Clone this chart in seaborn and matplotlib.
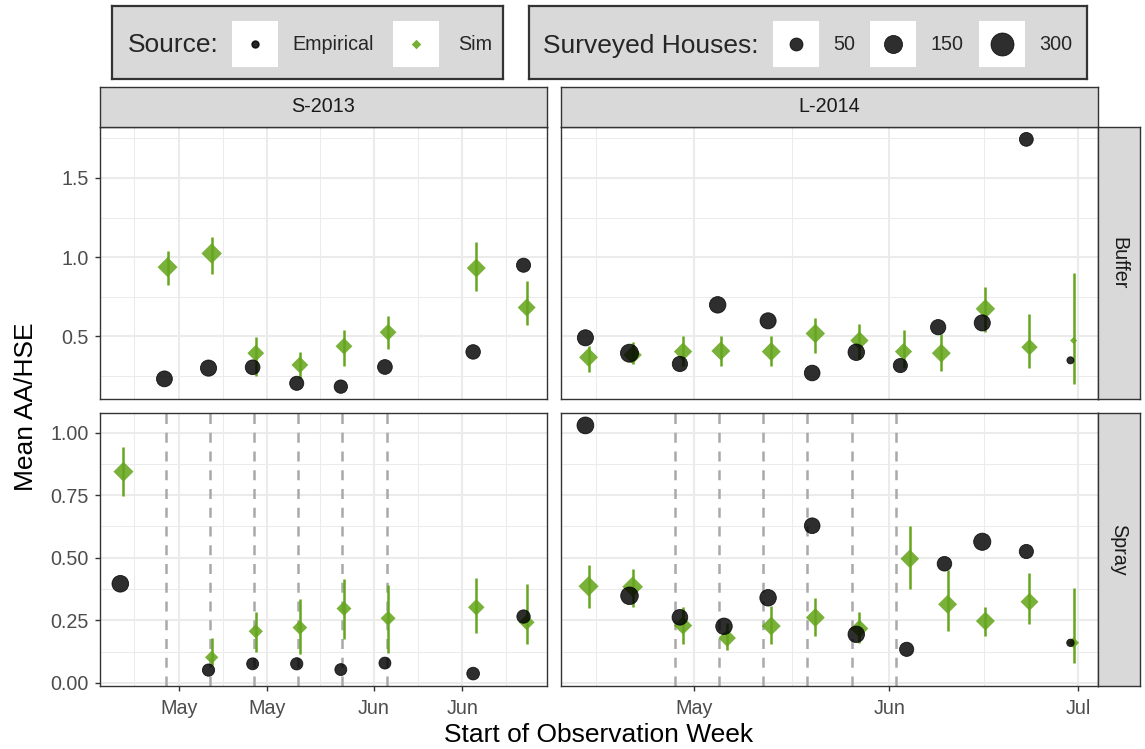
import numpy as np
import pandas as pd
import matplotlib
matplotlib.use("Agg")
import matplotlib.pyplot as plt
import matplotlib.dates as mdates
from matplotlib.patches import Rectangle
from matplotlib.ticker import FixedLocator, FixedFormatter
import seaborn as sns

# ---------------- data ----------------
# S-2013, Buffer
buf13_dates = ["2013-04-29", "2013-05-06", "2013-05-13", "2013-05-20", "2013-05-27",
               "2013-06-03", "2013-06-17", "2013-06-25"]
buf13_emp = [0.232, 0.300, 0.305, 0.204, 0.183, 0.307, 0.402, 0.949]
buf13_emp_n = [101, 107, 79, 68, 56, 79, 75, 68]
buf13_sim = [0.937, 1.023, 0.394, 0.320, 0.438, 0.526, 0.931, 0.682]
buf13_lo = [0.827, 0.895, 0.250, 0.240, 0.316, 0.419, 0.787, 0.571]
buf13_hi = [1.036, 1.130, 0.493, 0.404, 0.539, 0.629, 1.097, 0.851]
buf13_sim_n = [204, 219, 121, 121, 121, 121, 175, 149]

# S-2013, Spray
spr13_dates = ["2013-04-22", "2013-05-06", "2013-05-13", "2013-05-20", "2013-05-27",
               "2013-06-03", "2013-06-17", "2013-06-25"]
spr13_emp = [0.396, 0.051, 0.076, 0.076, 0.053, 0.079, 0.037, 0.265]
spr13_emp_n = [118, 40, 36, 40, 36, 36, 46, 56]
spr13_sim = [0.844, 0.102, 0.206, 0.221, 0.297, 0.258, 0.302, 0.242]
spr13_lo = [0.745, 0.070, 0.123, 0.116, 0.174, 0.120, 0.200, 0.154]
spr13_hi = [0.943, 0.179, 0.283, 0.336, 0.417, 0.393, 0.420, 0.394]
spr13_sim_n = [204, 55, 71, 78, 83, 83, 114, 99]
spray13_events = ["2013-04-29", "2013-05-06", "2013-05-13", "2013-05-20",
                  "2013-05-27", "2013-06-03"]

# L-2014, Buffer
buf14_dates = ["2014-04-14", "2014-04-21", "2014-04-29", "2014-05-05", "2014-05-13",
               "2014-05-20", "2014-05-27", "2014-06-03", "2014-06-09", "2014-06-16",
               "2014-06-23", "2014-06-30"]
buf14_emp = [0.491, 0.394, 0.326, 0.699, 0.598, 0.269, 0.400, 0.316, 0.558, 0.585, 1.743, 0.349]
buf14_emp_n = [106, 150, 89, 114, 106, 97, 114, 69, 89, 106, 63, 1]
buf14_sim = [0.368, 0.383, 0.404, 0.408, 0.404, 0.518, 0.474, 0.404, 0.394, 0.674, 0.432, 0.474]
buf14_lo = [0.274, 0.326, 0.316, 0.316, 0.316, 0.396, 0.358, 0.299, 0.284, 0.526, 0.299, 0.200]
buf14_hi = [0.442, 0.463, 0.505, 0.501, 0.505, 0.617, 0.579, 0.543, 0.516, 0.811, 0.642, 0.899]
buf14_sim_n = [175, 157, 157, 175, 175, 189, 157, 130, 175, 189, 112, 1]

# L-2014, Spray
spr14_dates = ["2014-04-14", "2014-04-21", "2014-04-29", "2014-05-06", "2014-05-13",
               "2014-05-20", "2014-05-27", "2014-06-04", "2014-06-10", "2014-06-16",
               "2014-06-23", "2014-06-30"]
spr14_emp = [1.029, 0.348, 0.262, 0.226, 0.340, 0.628, 0.194, 0.134, 0.476, 0.564, 0.525, 0.160]
spr14_emp_n = [121, 139, 97, 114, 114, 97, 114, 69, 76, 130, 69, 2]
spr14_sim = [0.386, 0.384, 0.229, 0.179, 0.227, 0.261, 0.217, 0.496, 0.314, 0.247, 0.324, 0.160]
spr14_lo = [0.299, 0.303, 0.156, 0.130, 0.156, 0.186, 0.160, 0.377, 0.207, 0.187, 0.237, 0.080]
spr14_hi = [0.471, 0.457, 0.303, 0.240, 0.306, 0.341, 0.285, 0.628, 0.450, 0.303, 0.441, 0.380]
spr14_sim_n = [210, 222, 157, 139, 175, 175, 147, 167, 175, 175, 147, 25]
spray14_events = ["2014-04-28", "2014-05-05", "2014-05-12", "2014-05-19",
                  "2014-05-26", "2014-06-02"]

# axis breaks
col_names = ["S-2013", "L-2014"]
row_names = ["Buffer", "Spray"]
x_major = {"S-2013": ["2013-05-01", "2013-05-15", "2013-06-01", "2013-06-15"],
           "L-2014": ["2014-05-01", "2014-06-01", "2014-07-01"]}
y_major = {"Buffer": [0.5, 1.0, 1.5], "Spray": [0.0, 0.25, 0.5, 0.75, 1.0]}
y_labels = {"Buffer": ["0.5", "1.0", "1.5"],
            "Spray": ["0.00", "0.25", "0.50", "0.75", "1.00"]}
legend_sizes = [50, 150, 300]

# ---------------- style ----------------
W, H = 1145, 749
sns.set_theme(style="white")
plt.rcParams["font.family"] = ["Liberation Sans", "DejaVu Sans"]

GREEN = "#66A61E"
DARK = "#333333"
GRID = "#EBEBEB"
STRIP = "#D9D9D9"
PT_PER_PX = 72 / 100
TITLE_FS = 19
SMALL_FS = 14.2

fig = plt.figure(figsize=(W / 100, H / 100), dpi=100)


def px_axes(x0, y0, x1, y1):
    return fig.add_axes([x0 / W, 1 - y1 / H, (x1 - x0) / W, (y1 - y0) / H])


def diam_px(n):
    return 6.1 + 0.974 * np.sqrt(n)


def circle_area(n):
    return (diam_px(n) * PT_PER_PX) ** 2


def diamond_area(n):
    return (diam_px(n) * PT_PER_PX / np.sqrt(2)) ** 2


panels = {
    ("S-2013", "Buffer"): (buf13_dates, buf13_emp, buf13_emp_n, buf13_sim, buf13_lo, buf13_hi, buf13_sim_n, []),
    ("S-2013", "Spray"): (spr13_dates, spr13_emp, spr13_emp_n, spr13_sim, spr13_lo, spr13_hi, spr13_sim_n, spray13_events),
    ("L-2014", "Buffer"): (buf14_dates, buf14_emp, buf14_emp_n, buf14_sim, buf14_lo, buf14_hi, buf14_sim_n, []),
    ("L-2014", "Spray"): (spr14_dates, spr14_emp, spr14_emp_n, spr14_sim, spr14_lo, spr14_hi, spr14_sim_n, spray14_events),
}

col_px = {"S-2013": (100, 547), "L-2014": (561, 1098)}
row_px = {"Buffer": (127, 399), "Spray": (413, 686)}
dodge = pd.Timedelta(hours=6)


def expanded(lo, hi, frac=0.05):
    pad = (hi - lo) * frac
    return lo - pad, hi + pad


# shared limits per column (x) and per row (y)
xlims = {}
for c in col_names:
    xs = []
    for r in row_names:
        d = pd.to_datetime(panels[(c, r)][0])
        xs += list(d - dodge) + list(d + dodge)
    xlims[c] = expanded(min(xs), max(xs))
ylims = {}
for r in row_names:
    vals = []
    for c in col_names:
        p = panels[(c, r)]
        vals += list(p[1]) + list(p[4]) + list(p[5])
    ylims[r] = expanded(min(vals), max(vals))

for c in col_names:
    for r in row_names:
        dates, emp, emp_n, sim, lo, hi, sim_n, events = panels[(c, r)]
        d = pd.to_datetime(dates)
        x0, x1 = col_px[c]
        y0, y1 = row_px[r]
        ax = px_axes(x0, y0, x1, y1)
        ax.set_facecolor("white")

        for ev in pd.to_datetime(events):
            ax.axvline(ev, color="#A9A9A9", lw=1.8, ls=(0, (4, 3.5)), zorder=1.5)

        emp_df = pd.DataFrame({"x": d - dodge, "y": emp, "n": emp_n})
        sim_df = pd.DataFrame({"x": d + dodge, "y": sim, "lo": lo, "hi": hi, "n": sim_n})

        ax.vlines(sim_df["x"], sim_df["lo"], sim_df["hi"], color=GREEN, lw=1.8, zorder=2)
        sns.scatterplot(data=sim_df, x="x", y="y", size="n",
                        sizes={n: diamond_area(n) for n in sim_df["n"].unique()},
                        marker="D", color=GREEN, alpha=0.88, linewidth=0,
                        legend=False, ax=ax, zorder=3)
        sns.scatterplot(data=emp_df, x="x", y="y", size="n",
                        sizes={n: circle_area(n) for n in emp_df["n"].unique()},
                        marker="o", color="black", alpha=0.82, edgecolor="black",
                        linewidth=0.6, legend=False, ax=ax, zorder=4)

        ax.set_xlim(*xlims[c])
        ax.set_ylim(*ylims[r])
        ax.set_xlabel("")
        ax.set_ylabel("")

        majors = pd.to_datetime(x_major[c])
        mnum = mdates.date2num(majors)
        step_first = mnum[1] - mnum[0]
        step_last = mnum[-1] - mnum[-2]
        minors = list((mnum[:-1] + mnum[1:]) / 2)
        minors = [mnum[0] - step_first / 2] + minors + [mnum[-1] + step_last / 2]
        ax.xaxis.set_major_locator(FixedLocator(mnum))
        ax.xaxis.set_major_formatter(mdates.DateFormatter("%b"))
        ax.xaxis.set_minor_locator(FixedLocator(minors))

        yb = y_major[r]
        ystep = yb[1] - yb[0]
        ax.yaxis.set_major_locator(FixedLocator(yb))
        ax.yaxis.set_major_formatter(FixedFormatter(y_labels[r]))
        ax.yaxis.set_minor_locator(FixedLocator([v + ystep / 2 for v in [yb[0] - ystep] + yb]))

        ax.grid(which="major", color=GRID, lw=1.5)
        ax.grid(which="minor", color=GRID, lw=0.75)
        ax.set_axisbelow(True)
        for s in ax.spines.values():
            s.set_color(DARK)
            s.set_linewidth(1.0)

        ax.tick_params(which="minor", length=0)
        ax.tick_params(which="major", color=DARK, width=1.0, length=3.6,
                       labelsize=SMALL_FS, labelcolor="#4D4D4D")
        ax.tick_params(axis="x", pad=5.5)
        ax.tick_params(axis="y", pad=4.5)
        if r == "Buffer":
            ax.tick_params(axis="x", length=0, labelbottom=False)
        else:
            ax.tick_params(axis="x", bottom=True)
        if c == "L-2014":
            ax.tick_params(axis="y", length=0, labelleft=False)
        else:
            ax.tick_params(axis="y", left=True)


def strip(x0, y0, x1, y1, label, rotation=0):
    sa = px_axes(x0, y0, x1, y1)
    sa.set_facecolor(STRIP)
    sa.set_xticks([])
    sa.set_yticks([])
    for s in sa.spines.values():
        s.set_color(DARK)
        s.set_linewidth(1.0)
    sa.text(0.5, 0.5, label, transform=sa.transAxes, ha="center", va="center",
            rotation=rotation, fontsize=SMALL_FS, color="#1A1A1A")


strip(100, 87, 547, 127, "S-2013")
strip(561, 87, 1098, 127, "L-2014")
strip(1098, 127, 1140, 399, "Buffer", rotation=-90)
strip(1098, 413, 1140, 686, "Spray", rotation=-90)

fig.text(599 / W, 1 - 742 / H, "Start of Observation Week", ha="center", va="baseline",
         fontsize=TITLE_FS, color="black")
fig.text(33 / W, 1 - 406.5 / H, "Mean AA/HSE", ha="center", va="baseline",
         rotation=90, rotation_mode="anchor", fontsize=TITLE_FS, color="black")


# ---------------- legends ----------------
def legend_box(x0, y0, x1, y1):
    la = px_axes(x0, y0, x1, y1)
    la.set_xlim(x0, x1)
    la.set_ylim(y1, y0)
    la.set_facecolor(STRIP)
    la.set_xticks([])
    la.set_yticks([])
    for s in la.spines.values():
        s.set_color(DARK)
        s.set_linewidth(1.6)
    return la


def key(la, xc, yc, size=46):
    la.add_patch(Rectangle((xc - size / 2, yc - size / 2), size, size,
                           facecolor="white", edgecolor="none", zorder=1))


la = legend_box(112, 6, 503, 79)
la.text(128, 52.5, "Source:", fontsize=TITLE_FS, va="baseline", ha="left")
key(la, 255, 44)
la.scatter([255], [44], s=(7 * PT_PER_PX) ** 2, color="black", alpha=0.85, zorder=2)
la.text(292, 50.5, "Empirical", fontsize=SMALL_FS, va="baseline", ha="left")
key(la, 416, 44)
la.scatter([416], [44], s=(9.5 * PT_PER_PX / np.sqrt(2)) ** 2, marker="D", color=GREEN,
           alpha=0.9, linewidth=0, zorder=2)
la.text(458, 50.5, "Sim", fontsize=SMALL_FS, va="baseline", ha="left")

lb = legend_box(529, 6, 1087, 79)
lb.text(543, 52.5, "Surveyed Houses:", fontsize=TITLE_FS, va="baseline", ha="left")
key_x = [796, 893, 1002]
for kx, n in zip(key_x, legend_sizes):
    key(lb, kx, 44)
    lb.scatter([kx], [44], s=circle_area(n), color="black", alpha=0.82,
               edgecolor="black", linewidth=0.6, zorder=2)
    lb.text(kx + 37, 50.5, str(n), fontsize=SMALL_FS, va="baseline", ha="left")

fig.savefig("out.png", dpi=100, facecolor="white")
